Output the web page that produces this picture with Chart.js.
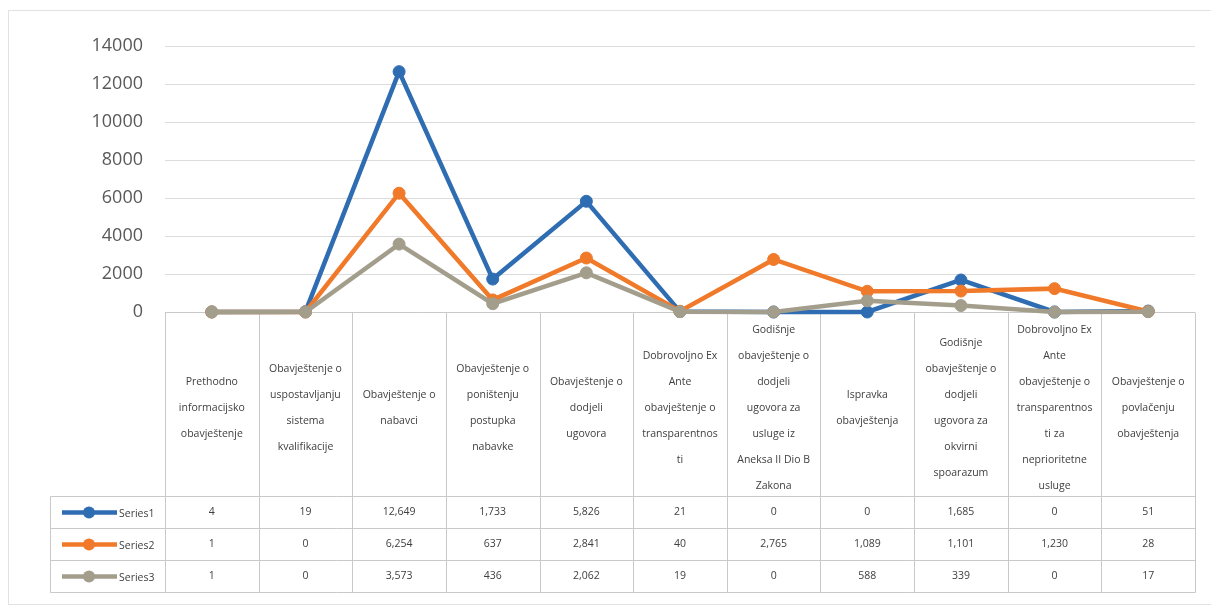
<!DOCTYPE html>
<html><head><meta charset="utf-8">
<script src="https://cdn.jsdelivr.net/npm/chart.js@4"></script>
<style>html,body{margin:0;padding:0;background:#fff}#wrap{width:1211px;height:607px;position:relative}</style>
</head><body><div id="wrap"><canvas id="c"></canvas></div>
<script>
const categories = [
  ["Prethodno","informacijsko","obavještenje"],
  ["Obavještenje o","uspostavljanju","sistema","kvalifikacije"],
  ["Obavještenje o","nabavci"],
  ["Obavještenje o","poništenju","postupka","nabavke"],
  ["Obavještenje o","dodjeli","ugovora"],
  ["Dobrovoljno Ex","Ante","obavještenje o","transparentnos","ti"],
  ["Godišnje","obavještenje o","dodjeli","ugovora za","usluge iz","Aneksa II Dio B","Zakona"],
  ["Ispravka","obavještenja"],
  ["Godišnje","obavještenje o","dodjeli","ugovora za","okvirni","spoarazum"],
  ["Dobrovoljno Ex","Ante","obavještenje o","transparentnos","ti za","neprioritetne","usluge"],
  ["Obavještenje o","povlačenju","obavještenja"]
];
const seriesNames = ["Series1","Series2","Series3"];
const series1 = [4,19,12649,1733,5826,21,0,0,1685,0,51];
const series2 = [1,0,6254,637,2841,40,2765,1089,1101,1230,28];
const series3 = [1,0,3573,436,2062,19,0,588,339,0,17];
const yTicks = [0,2000,4000,6000,8000,10000,12000,14000];
const colors = ["#2f6db3","#f07a2a","#a39e8c"];

const allSeries = [series1, series2, series3];
const FONT = "'Open Sans', 'Liberation Sans', sans-serif";

const tablePlugin = {
  id: 'dataTable',
  beforeDraw(chart) {
    const ctx = chart.ctx;
    ctx.save();
    ctx.fillStyle = '#fff';
    ctx.fillRect(0,0,chart.width,chart.height);
    ctx.strokeStyle = '#e2e2e2';
    ctx.lineWidth = 1;
    ctx.strokeRect(8.5, 10.5, 1206, 594);
    ctx.restore();
  },
  beforeDatasetsDraw(chart) {
    const ctx = chart.ctx;
    const xs = chart.scales.x;
    const ys = chart.scales.y;
    const top = Math.round(ys.bottom) + 0.5;
    const n = categories.length;
    const colW = (xs.right - xs.left) / n;
    const headerBottom = top + 184;
    const rowH = 32;
    const tableBottom = headerBottom + rowH * allSeries.length;
    const legendLeft = 50.5;
    ctx.save();
    ctx.strokeStyle = '#c9c9c9';
    ctx.lineWidth = 1;
    ctx.beginPath();
    // vertical lines
    for (let i = 0; i <= n; i++) {
      const x = Math.round(xs.left + i * colW) + 0.5;
      ctx.moveTo(x, top); ctx.lineTo(x, tableBottom);
    }
    ctx.moveTo(legendLeft, headerBottom); ctx.lineTo(legendLeft, tableBottom);
    // horizontal lines
    ctx.moveTo(xs.left, top); ctx.lineTo(xs.right, top);
    for (let r = 0; r <= allSeries.length; r++) {
      const y = headerBottom + r * rowH;
      ctx.moveTo(legendLeft, y); ctx.lineTo(Math.round(xs.right)+0.5, y);
    }
    ctx.stroke();

    // header text
    ctx.fillStyle = '#404040';
    ctx.font = '10.5px ' + FONT;
    ctx.textAlign = 'center';
    ctx.textBaseline = 'middle';
    const lh = 26;
    const hc = (top + headerBottom) / 2 + 4;
    categories.forEach((lines, i) => {
      const cx = xs.getPixelForValue(i);
      const y0 = hc - (lines.length - 1) * lh / 2;
      lines.forEach((t, k) => ctx.fillText(t, cx, y0 + k * lh));
    });

    // values
    ctx.font = '10.5px ' + FONT;
    allSeries.forEach((s, r) => {
      const cy = headerBottom + r * rowH + rowH / 2;
      s.forEach((v, i) => {
        ctx.fillText(v.toLocaleString('en-US'), xs.getPixelForValue(i), cy);
      });
      // legend key
      ctx.strokeStyle = colors[r];
      ctx.lineWidth = 4.5;
      ctx.beginPath();
      ctx.moveTo(62, cy); ctx.lineTo(117, cy);
      ctx.stroke();
      ctx.fillStyle = colors[r];
      ctx.beginPath();
      ctx.arc(89, cy, 6, 0, Math.PI * 2);
      ctx.fill();
      ctx.fillStyle = '#404040';
      ctx.textAlign = 'left';
      ctx.fillText(seriesNames[r], 119, cy + 2);
      ctx.textAlign = 'center';
    });
    ctx.restore();
  }
};

new Chart(document.getElementById('c'), {
  type: 'line',
  data: {
    labels: categories.map(c => c.join(' ')),
    datasets: allSeries.map((s, i) => ({
      label: seriesNames[i],
      data: s,
      borderColor: colors[i],
      backgroundColor: colors[i],
      pointBackgroundColor: colors[i],
      pointBorderColor: colors[i],
      borderWidth: 4.5,
      pointRadius: 6,
      pointBorderWidth: 1,
      tension: 0,
      clip: false,
      order: 3 - i
    }))
  },
  options: {
    responsive: true,
    maintainAspectRatio: false,
    animation: false,
    layout: { padding: { left: 0, right: 16, top: 46, bottom: 295 } },
    plugins: { legend: { display: false }, tooltip: { enabled: false } },
    scales: {
      x: {
        type: 'category',
        offset: true,
        display: false
      },
      y: {
        min: yTicks[0],
        max: yTicks[yTicks.length - 1],
        afterFit(s) { s.width = 165; },
        afterBuildTicks(s) { s.ticks = yTicks.map(v => ({ value: v })); },
        ticks: {
          padding: 22,
          color: '#595959',
          font: { family: FONT, size: 18 },
          callback: v => String(v)
        },
        grid: { color: '#dcdcdc', drawTicks: false },
        border: { display: false }
      }
    }
  },
  plugins: [tablePlugin]
});
</script>
</body></html>
